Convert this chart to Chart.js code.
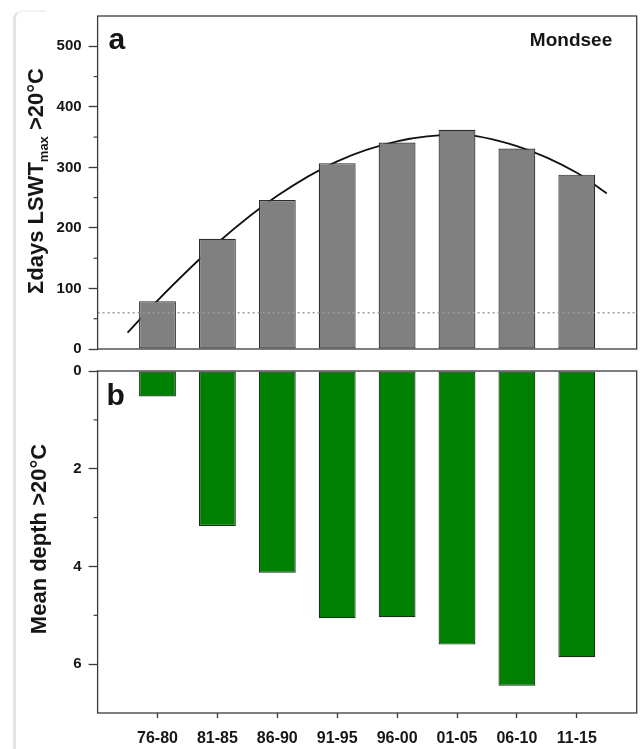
<!DOCTYPE html>
<html>
<head>
<meta charset="utf-8">
<script src="https://cdn.jsdelivr.net/npm/chart.js@4"></script>
<style>
  body { margin: 0; background: #fff; }
  #page { position: relative; width: 643px; height: 749px; overflow: hidden; }
  .edge { position: absolute; left: 13px; top: 10px; width: 30px; height: 760px;
          border-left: 3px solid #e4e4e4; border-top: 2px solid #f2f2f2; border-top-left-radius: 9px; }
  #wrapA { position: absolute; left: 0; top: 0; }
  #wrapB { position: absolute; left: 0; top: 355px; }
</style>
</head>
<body>
<div id="page">
  <div class="edge"></div>
  <div id="wrapA"><canvas id="ca" width="643" height="365"></canvas></div>
  <div id="wrapB"><canvas id="cb" width="643" height="394"></canvas></div>
</div>
<script>
// five-year periods
const periods = ['76-80', '81-85', '86-90', '91-95', '96-00', '01-05', '06-10', '11-15'];
// panel a: sum of days with LSWTmax > 20 °C
const daysAbove20 = [79, 182, 246, 307, 341, 362, 331, 288];
// panel a: fitted curve
const fitX = [-0.5, 0, 1, 2, 3, 4, 5, 6, 7, 7.5];
const fitDays = [27, 80, 175, 253, 310, 343, 354, 335, 291, 257];
// panel a: dotted reference level
const thresholdDays = 60;
// panel b: mean depth of the >20 °C layer (m)
const meanDepth = [0.52, 3.17, 4.13, 5.06, 5.04, 5.60, 6.44, 5.86];

const xMin = -1, xMax = 8;
const axisColor = '#3a3a3a';
const textColor = '#161616';

Chart.defaults.font.family = '"Liberation Sans", Arial, sans-serif';
Chart.defaults.font.weight = 'bold';

function boldFont(size) {
  return 'bold ' + size + 'px "Liberation Sans", Arial, sans-serif';
}

const framePlugin = {
  id: 'frame',
  afterDatasetsDraw(chart) {
    const a = chart.chartArea, ctx = chart.ctx;
    ctx.save();
    ctx.strokeStyle = axisColor;
    ctx.lineWidth = 1.3;
    ctx.strokeRect(a.left, a.top, a.right - a.left, a.bottom - a.top);
    ctx.restore();
  }
};

const minorTicks = {
  id: 'minorTicks',
  afterDraw(chart) {
    const y = chart.scales.y, ctx = chart.ctx;
    ctx.save();
    ctx.strokeStyle = axisColor;
    ctx.lineWidth = 1.2;
    y.ticks.forEach(t => {
      if (t.label !== '' || t.value === y.max) return;
      const py = y.getPixelForValue(t.value);
      ctx.beginPath();
      ctx.moveTo(y.right - 4, py);
      ctx.lineTo(y.right, py);
      ctx.stroke();
    });
    ctx.restore();
  }
};

// rotated y title, built from pieces so the subscript works
function yTitle(parts, x, yMid) {
  return {
    id: 'ytitle',
    afterDraw(chart) {
      const ctx = chart.ctx;
      ctx.save();
      ctx.translate(x, yMid);
      ctx.rotate(-Math.PI / 2);
      ctx.fillStyle = textColor;
      ctx.textBaseline = 'alphabetic';
      let total = 0;
      parts.forEach(p => { ctx.font = boldFont(p.size); total += ctx.measureText(p.text).width; });
      let cx = -total / 2;
      parts.forEach(p => {
        ctx.font = boldFont(p.size);
        ctx.fillText(p.text, cx, p.shift || 0);
        cx += ctx.measureText(p.text).width;
      });
      ctx.restore();
    }
  };
}

function panelText(items) {
  return {
    id: 'panelText',
    afterDraw(chart) {
      const a = chart.chartArea, ctx = chart.ctx;
      ctx.save();
      ctx.fillStyle = textColor;
      ctx.textBaseline = 'alphabetic';
      items.forEach(it => {
        ctx.font = boldFont(it.size);
        ctx.textAlign = it.align || 'left';
        const px = it.align === 'right' ? a.right - it.dx : a.left + it.dx;
        ctx.fillText(it.text, px, a.top + it.dy);
      });
      ctx.restore();
    }
  };
}

function yTicks(major, fontSize) {
  return {
    stepSize: major / 2,
    callback: v => (v % major === 0 ? v : ''),
    font: { size: fontSize, weight: 'bold' },
    color: textColor,
    padding: 7
  };
}

function yGrid(major) {
  return {
    drawOnChartArea: false,
    tickLength: 9,
    tickWidth: 1.3,
    tickColor: c => (c.tick && c.tick.value % major === 0 ? axisColor : 'rgba(0,0,0,0)')
  };
}

// panel a
new Chart(document.getElementById('ca'), {
  type: 'bar',
  data: {
    datasets: [
      {
        type: 'line',
        data: [{ x: xMin, y: thresholdDays }, { x: xMax, y: thresholdDays }],
        borderColor: '#9c9c9c',
        borderWidth: 1.5,
        borderDash: [2, 3],
        pointRadius: 0,
        order: 0
      },
      {
        type: 'bar',
        data: periods.map((p, i) => ({ x: i, y: daysAbove20[i] })),
        backgroundColor: '#808080',
        borderColor: '#2b2b2b',
        borderWidth: 1.2,
        borderSkipped: false,
        barPercentage: 0.615,
        categoryPercentage: 1,
        order: 1
      },
      {
        type: 'line',
        data: fitX.map((x, i) => ({ x: x, y: fitDays[i] })),
        borderColor: '#111',
        borderWidth: 1.8,
        pointRadius: 0,
        cubicInterpolationMode: 'monotone',
        order: 2
      }
    ]
  },
  options: {
    responsive: false,
    animation: false,
    layout: { padding: { left: 0, right: 6.3, top: 8, bottom: 14 } },
    plugins: { legend: { display: false }, tooltip: { enabled: false } },
    scales: {
      x: { type: 'linear', min: xMin, max: xMax, offset: false, grid: { offset: false }, display: false },
      y: {
        min: 0, max: 550,
        ticks: yTicks(100, 15),
        grid: yGrid(100),
        border: { display: false },
        afterFit: s => { s.width = 97.6; }
      }
    }
  },
  plugins: [
    framePlugin, minorTicks,
    yTitle([{ text: 'Σdays LSWT', size: 22 }, { text: 'max', size: 13, shift: 5 }, { text: ' >20°C', size: 22 }], 43, 181),
    panelText([{ text: 'a', size: 30, dx: 11, dy: 33 }, { text: 'Mondsee', size: 19, dx: 24.5, dy: 30, align: 'right' }])
  ]
});

// panel b
new Chart(document.getElementById('cb'), {
  type: 'bar',
  data: {
    datasets: [
      {
        data: periods.map((p, i) => ({ x: i, y: meanDepth[i] })),
        backgroundColor: '#008000',
        borderColor: '#143314',
        borderWidth: 1.2,
        borderSkipped: false,
        barPercentage: 0.615,
        categoryPercentage: 1
      }
    ]
  },
  options: {
    responsive: false,
    animation: false,
    layout: { padding: { left: 0, right: 6.3, top: 13, bottom: 0 } },
    plugins: { legend: { display: false }, tooltip: { enabled: false } },
    scales: {
      x: {
        type: 'linear', min: xMin, max: xMax, offset: false,
        ticks: {
          stepSize: 1, autoSkip: false, maxRotation: 0,
          callback: v => periods[v] || '',
          font: { size: 16, weight: 'bold' },
          color: textColor,
          padding: 11
        },
        grid: {
          offset: false,
          drawOnChartArea: false,
          tickLength: 5,
          tickWidth: 1.3,
          tickColor: c => (c.tick && c.tick.value >= 0 && c.tick.value < periods.length ? axisColor : 'rgba(0,0,0,0)')
        },
        border: { display: false },
        afterFit: s => { s.height = 36; s.paddingLeft = 0; s.paddingRight = 0; }
      },
      y: {
        reverse: true,
        min: 0, max: 7,
        ticks: yTicks(2, 15),
        grid: yGrid(2),
        border: { display: false },
        afterFit: s => { s.width = 97.6; }
      }
    }
  },
  plugins: [
    framePlugin, minorTicks,
    yTitle([{ text: 'Mean depth >20°C', size: 22 }], 46, 184),
    panelText([{ text: 'b', size: 30, dx: 9, dy: 34 }])
  ]
});
</script>
</body>
</html>
